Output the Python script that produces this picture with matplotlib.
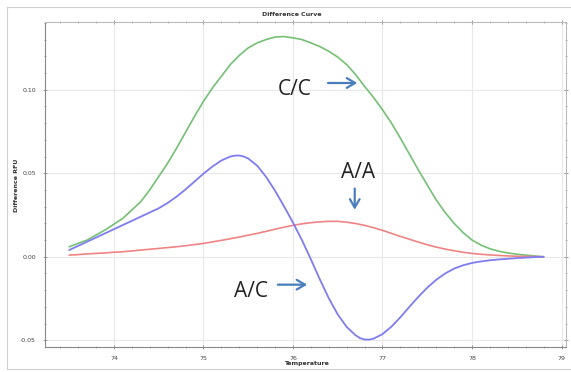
import matplotlib
matplotlib.use("Agg")
import matplotlib.pyplot as plt
from matplotlib.ticker import MultipleLocator
from matplotlib.lines import Line2D

# --- data ---
temp_cc = [73.5, 73.6, 73.7, 73.8, 73.9, 74.0, 74.1, 74.2, 74.3, 74.4, 74.5, 74.6, 74.7, 74.8, 74.9,
           75.0, 75.1, 75.2, 75.3, 75.4, 75.5, 75.6, 75.7, 75.8, 75.9, 76.0, 76.1, 76.2, 76.3, 76.4,
           76.5, 76.6, 76.7, 76.8, 76.9, 77.0, 77.1, 77.2, 77.3, 77.4, 77.5, 77.6, 77.7, 77.8, 77.9,
           78.0, 78.1, 78.2, 78.3, 78.4, 78.5, 78.6, 78.7, 78.8]
rfu_cc = [0.006, 0.008, 0.010, 0.013, 0.016, 0.0195, 0.023, 0.028, 0.033, 0.040, 0.048, 0.056, 0.065, 0.0745, 0.084,
          0.093, 0.101, 0.108, 0.115, 0.1205, 0.125, 0.128, 0.130, 0.1315, 0.1318, 0.131, 0.130, 0.128, 0.1258, 0.123,
          0.1195, 0.115, 0.109, 0.102, 0.0953, 0.088, 0.080, 0.071, 0.0615, 0.052, 0.043, 0.034, 0.0265, 0.020, 0.0145,
          0.010, 0.007, 0.0048, 0.0033, 0.0023, 0.0015, 0.001, 0.0005, 0.0]

temp_ac = [73.5, 73.6, 73.7, 73.8, 73.9, 74.0, 74.1, 74.2, 74.3, 74.4, 74.5, 74.6, 74.7, 74.8, 74.9,
           75.0, 75.1, 75.2, 75.3, 75.35, 75.4, 75.45, 75.5, 75.6, 75.7, 75.8, 75.9, 76.0, 76.1, 76.2,
           76.3, 76.4, 76.5, 76.6, 76.7, 76.75, 76.8, 76.85, 76.9, 77.0, 77.1, 77.2, 77.3, 77.4, 77.5,
           77.6, 77.7, 77.8, 77.9, 78.0, 78.1, 78.2, 78.3, 78.4, 78.5, 78.6, 78.7, 78.8]
rfu_ac = [0.004, 0.0065, 0.009, 0.0115, 0.014, 0.0165, 0.019, 0.0215, 0.024, 0.0265, 0.029, 0.0322, 0.036, 0.0403, 0.045,
          0.0497, 0.054, 0.0576, 0.0600, 0.0605, 0.0606, 0.0600, 0.0588, 0.0545, 0.0478, 0.0395, 0.0302, 0.0205, 0.0100, -0.0015,
          -0.0135, -0.0248, -0.0345, -0.0420, -0.0470, -0.0487, -0.0495, -0.0496, -0.0490, -0.0463, -0.0418, -0.0362, -0.0300, -0.0240, -0.0185,
          -0.0138, -0.0100, -0.0071, -0.0051, -0.0037, -0.0028, -0.0021, -0.0016, -0.0012, -0.0008, -0.0005, -0.0002, 0.0]

temp_aa = [73.5, 73.6, 73.7, 73.8, 73.9, 74.0, 74.1, 74.2, 74.3, 74.4, 74.5, 74.6, 74.7, 74.8, 74.9,
           75.0, 75.1, 75.2, 75.3, 75.4, 75.5, 75.6, 75.7, 75.8, 75.9, 76.0, 76.1, 76.2, 76.3, 76.4,
           76.5, 76.6, 76.7, 76.8, 76.9, 77.0, 77.1, 77.2, 77.3, 77.4, 77.5, 77.6, 77.7, 77.8, 77.9,
           78.0, 78.1, 78.2, 78.3, 78.4, 78.5, 78.6, 78.7, 78.8]
rfu_aa = [0.001, 0.0013, 0.0017, 0.002, 0.0023, 0.0027, 0.003, 0.0035, 0.004, 0.0045, 0.005, 0.0055, 0.006, 0.0066, 0.0073,
          0.008, 0.0089, 0.0098, 0.0108, 0.0118, 0.0129, 0.014, 0.0152, 0.0165, 0.0177, 0.0188, 0.0197, 0.0204, 0.0209, 0.0212,
          0.0212, 0.0207, 0.0199, 0.0188, 0.0174, 0.0158, 0.0140, 0.0122, 0.0105, 0.0088, 0.0072, 0.0058, 0.0046, 0.0036, 0.0027,
          0.002, 0.0015, 0.0011, 0.0008, 0.0005, 0.0003, 0.0002, 0.0001, 0.0]

x_ticks = [74, 75, 76, 77, 78, 79]
y_ticks = [-0.05, 0.00, 0.05, 0.10]
y_tick_labels = ["-0.05", "0.00", "0.05", "0.10"]

fig = plt.figure(figsize=(5.71, 3.72), dpi=100)
ax = fig.add_axes([45 / 571, 1 - 347 / 372, 521 / 571, 325 / 372])

line_kw = dict(solid_joinstyle="round", solid_capstyle="round")
ax.plot(temp_cc, rfu_cc, color="#74c074", lw=1.2, **line_kw)
ax.plot(temp_aa, rfu_aa, color="#f08484", lw=1.2, **line_kw)
ax.plot(temp_ac, rfu_ac, color="#7f7cf0", lw=1.3, **line_kw)

ax.set_xlim(73.23, 79.05)
ax.set_ylim(-0.054, 0.1405)
ax.set_xticks(x_ticks)
ax.set_xticklabels([str(t) for t in x_ticks])
ax.set_yticks(y_ticks)
ax.set_yticklabels(y_tick_labels)
ax.xaxis.set_minor_locator(MultipleLocator(0.2))
ax.yaxis.set_minor_locator(MultipleLocator(0.01))
ax.tick_params(which="both", direction="inout", colors="#888888", labelcolor="#444444",
               labelsize=4.5, top=True, right=True, labeltop=False, labelright=False)
ax.tick_params(which="major", length=3, width=0.6, pad=5)
ax.tick_params(which="minor", length=2, width=0.5)
ax.grid(True, which="major", color="#e8e8e8", lw=0.8)
ax.set_axisbelow(True)
for s in ["left", "bottom"]:
    ax.spines[s].set_color("#888888")
    ax.spines[s].set_linewidth(0.8)
for s in ["top", "right"]:
    ax.spines[s].set_color("#bbbbbb")
    ax.spines[s].set_linewidth(0.8)

fig.text(292 / 571, 1 - 15 / 372, "Difference Curve", ha="center", va="center",
         fontsize=4.5, fontweight="bold", color="#333333")
fig.text(306 / 571, 1 - 364 / 372, "Temperature", ha="center", va="center",
         fontsize=4.5, fontweight="bold", color="#333333")
fig.text(17 / 571, 1 - 185 / 372, "Difference RFU", ha="center", va="center", rotation=90,
         fontsize=4.5, fontweight="bold", color="#333333")

# figure border
for (x0, y0, x1, y1) in [(7, 7, 570, 7), (7, 369, 570, 369), (7, 7, 7, 369)]:
    fig.add_artist(Line2D([x0 / 571, x1 / 571], [1 - y0 / 372, 1 - y1 / 372],
                          color="#d0d0d0", lw=0.8, transform=fig.transFigure))

arrow_col = "#4a7ebb"
lab_font = dict(fontsize=15, family=["Open Sans", "DejaVu Sans"], color="#222222",
                ha="center", va="center")
arr = dict(arrowstyle="->,head_length=0.6,head_width=0.35", color=arrow_col, lw=1.6)

ax.text(76.02, 0.1004, "C/C", **lab_font)
ax.annotate("", xy=(76.75, 0.104), xytext=(76.36, 0.104), arrowprops=arr)
ax.text(76.73, 0.0505, "A/A", **lab_font)
ax.annotate("", xy=(76.69, 0.0265), xytext=(76.69, 0.0425), arrowprops=arr)
ax.text(75.53, -0.0205, "A/C", **lab_font)
ax.annotate("", xy=(76.19, -0.0167), xytext=(75.80, -0.0167), arrowprops=arr)

fig.savefig("out.png", dpi=100)
